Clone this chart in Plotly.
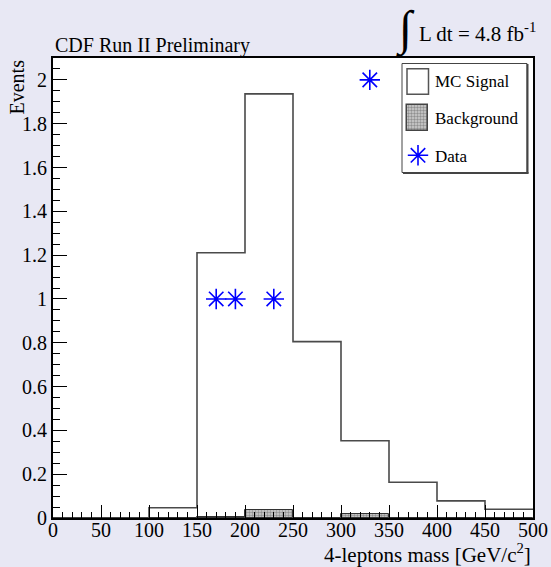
import plotly.graph_objects as go

# ---------------- data ----------------
bin_edges = [0, 50, 100, 150, 200, 250, 300, 350, 400, 450, 500]
signal = [0.0, 0.0, 0.047, 1.211, 1.936, 0.805, 0.353, 0.163, 0.078, 0.040]
background = [0.0, 0.0, 0.0, 0.004, 0.035, 0.0, 0.020, 0.0, 0.0, 0.0]
data_x = [170, 190, 230, 330]
data_y = [1, 1, 1, 2]
x_tick_vals = [0, 50, 100, 150, 200, 250, 300, 350, 400, 450, 500]
y_tick_vals = [0, 0.2, 0.4, 0.6, 0.8, 1.0, 1.2, 1.4, 1.6, 1.8, 2.0]
y_tick_text = ["0", "0.2", "0.4", "0.6", "0.8", "1", "1.2", "1.4", "1.6", "1.8", "2"]

legend_labels = ["MC Signal", "Background", "Data"]

FONT = "Liberation Serif"
BG = "#e8e8f4"

# plot area in pixels (for placing decorations)
PL, PR, PT, PB = 53, 533, 58, 518


def px(xp):
    return (xp - PL) / (PR - PL)


def py(yp):
    return (PB - yp) / (PB - PT)


centers = [(a + b) / 2 for a, b in zip(bin_edges[:-1], bin_edges[1:])]
widths = [b - a for a, b in zip(bin_edges[:-1], bin_edges[1:])]

fig = go.Figure()

# MC signal as step outline
fig.add_trace(go.Scatter(
    x=bin_edges, y=signal + [signal[-1]], mode="lines", line_shape="hv",
    line=dict(color="#4a4a4a", width=1.6), showlegend=False, hoverinfo="skip"))

pattern = dict(shape=".", fgcolor="#505050", bgcolor="#d0d0d0", size=3, solidity=0.5)

# Background hatched histogram
fig.add_trace(go.Bar(
    x=centers, y=background, width=widths,
    marker=dict(color="#bbbbbb", line=dict(color="#333333", width=1), pattern=pattern),
    showlegend=False, hoverinfo="skip"))

# Data points
fig.add_trace(go.Scatter(
    x=data_x, y=data_y, mode="markers",
    marker=dict(symbol="asterisk-open", size=17, color="#0000ff",
                line=dict(color="#0000ff", width=1.6)),
    showlegend=False))

# ---------- hand-made legend on overlay pixel axes ----------
fig.add_trace(go.Bar(
    x=[417.7], y=[25.4], base=[105.3], width=[21.5], xaxis="x2", yaxis="y2",
    marker=dict(color="#bbbbbb", line=dict(color="#444444", width=1.5), pattern=pattern),
    showlegend=False, hoverinfo="skip"))
fig.add_trace(go.Scatter(
    x=[418], y=[155.3], xaxis="x2", yaxis="y2", mode="markers",
    marker=dict(symbol="asterisk-open", size=17, color="#0000ff",
                line=dict(color="#0000ff", width=1.6)),
    showlegend=False, hoverinfo="skip"))

shapes = [
    dict(type="rect", xref="x2", yref="y2", x0=402, x1=527, y0=63.5, y1=172.5,
         line=dict(color="#444444", width=1), fillcolor="white", layer="below"),
    dict(type="line", xref="x2", yref="y2", x0=527.5, x1=527.5, y0=64, y1=173.5,
         line=dict(color="#444444", width=2), layer="below"),
    dict(type="line", xref="x2", yref="y2", x0=403, x1=528.5, y0=173, y1=173,
         line=dict(color="#444444", width=2), layer="below"),
    dict(type="rect", xref="x2", yref="y2", x0=407, x1=428.5, y0=68.7, y1=94.3,
         line=dict(color="#555555", width=1.5), fillcolor="white", layer="below"),
]

annotations = []
for lbl, yy in zip(legend_labels, [81, 118, 156]):
    annotations.append(dict(text=lbl, xref="x2", yref="y2", x=433, y=yy,
                            xanchor="left", yanchor="middle", showarrow=False,
                            font=dict(family=FONT, size=17, color="black")))

# Title texts
annotations += [
    dict(text="CDF Run II Preliminary", xref="paper", yref="paper", x=0, y=1,
         xanchor="left", yanchor="bottom", yshift=-1, showarrow=False,
         font=dict(family=FONT, size=20, color="black")),
    dict(text="∫", xref="paper", yref="paper", x=px(405), y=py(28.5), xanchor="center",
         yanchor="middle", showarrow=False,
         font=dict(family=FONT, size=48, color="black")),
    dict(text="L dt = 4.8 fb<sup>-1</sup>", xref="paper", yref="paper", x=px(417),
         y=py(33), xanchor="left", yanchor="middle", showarrow=False,
         font=dict(family=FONT, size=21, color="black")),
    dict(text="Events", xref="paper", yref="paper", x=px(16), y=1.0,
         xanchor="center", yanchor="top", textangle=-90, showarrow=False,
         font=dict(family=FONT, size=20, color="black")),
    dict(text="4-leptons mass [GeV/c<sup>2</sup>]", xref="paper", yref="paper", x=1.0,
         y=py(553), xanchor="right", yanchor="middle", showarrow=False,
         font=dict(family=FONT, size=21, color="black")),
]

fig.update_layout(
    width=551, height=567,
    margin=dict(l=PL, r=551 - PR, t=PT, b=567 - PB, autoexpand=False),
    paper_bgcolor=BG, plot_bgcolor="white",
    bargap=0, barmode="overlay",
    font=dict(family=FONT, size=20, color="black"),
    shapes=shapes, annotations=annotations,
    xaxis=dict(range=[0, 500], tickvals=x_tick_vals, ticks="inside", ticklen=13,
               tickwidth=1, tickcolor="black", showgrid=False, zeroline=False,
               showline=True, linewidth=2, linecolor="black", mirror=True,
               automargin=False, ticklabelstandoff=-7,
               tickfont=dict(family=FONT, size=20, color="black"),
               minor=dict(dtick=10, ticks="inside", ticklen=6, tickwidth=1,
                          tickcolor="black", showgrid=False)),
    yaxis=dict(range=[0, 2.1], tickvals=y_tick_vals, ticktext=y_tick_text,
               ticks="inside", ticklen=14, tickwidth=1, tickcolor="black",
               showgrid=False, zeroline=False, showline=True, linewidth=2,
               linecolor="black", mirror=True, automargin=False,
               tickfont=dict(family=FONT, size=20, color="black"),
               minor=dict(dtick=0.05, tick0=0, ticks="inside", ticklen=7, tickwidth=1,
                          tickcolor="black", showgrid=False)),
    xaxis2=dict(range=[PL, PR], overlaying="x", visible=False, fixedrange=True),
    yaxis2=dict(range=[PB, PT], overlaying="y", visible=False, fixedrange=True),
)

fig.write_html("out.html")
